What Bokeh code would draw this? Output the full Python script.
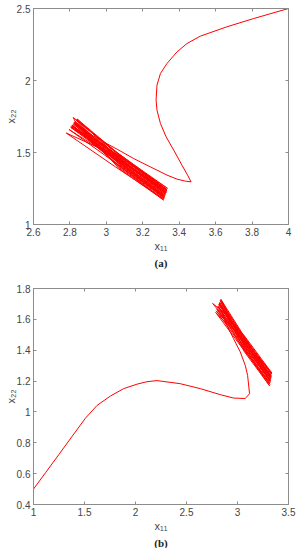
from bokeh.plotting import figure
from bokeh.layouts import column
from bokeh.models import LinearAxis, FixedTicker, Title, CustomJSTickFormatter
from bokeh.embed import file_html
from bokeh.resources import INLINE

# ---------------- data (a) ----------------
trans_a_x = [4.0, 3.808, 3.662, 3.516, 3.443, 3.388, 3.333, 3.297, 3.278, 3.273, 3.278, 3.297,
             3.328, 3.370, 3.415, 3.446, 3.465, 3.434, 3.388, 3.333, 3.242, 3.150, 3.059,
             2.967, 2.876, 2.839, 2.818]
trans_a_y = [2.5, 2.43, 2.373, 2.308, 2.257, 2.199, 2.118, 2.049, 1.968, 1.864, 1.794, 1.701,
             1.609, 1.516, 1.412, 1.343, 1.296, 1.301, 1.315, 1.343, 1.400, 1.458, 1.523,
             1.586, 1.655, 1.690, 1.743]
band_a_x = [3.07, 3.336, 3.05, 2.828, 3.07, 3.327, 3.05, 2.825, 3.07, 3.321, 3.05, 2.810,
            3.07, 3.333, 3.05, 2.839, 3.07, 3.330, 3.05, 2.813, 3.07, 3.318, 3.05, 2.804,
            3.07, 3.329, 3.05, 2.834, 3.07, 3.314, 3.05, 2.795, 3.07, 3.325, 3.05, 2.821,
            3.07, 3.333, 3.05, 2.836, 3.07, 3.320, 3.05, 2.807, 3.07, 3.327, 3.05, 2.824,
            3.07, 3.316, 3.05, 2.780, 3.07, 3.332, 3.05, 2.818, 3.07, 3.323, 3.05, 2.812,
            3.07, 3.319]
band_a_y = [1.488, 1.251, 1.490, 1.715, 1.449, 1.219, 1.484, 1.710, 1.421, 1.197, 1.456, 1.685,
            1.477, 1.242, 1.509, 1.733, 1.460, 1.228, 1.462, 1.690, 1.404, 1.183, 1.445, 1.675,
            1.455, 1.224, 1.501, 1.725, 1.388, 1.170, 1.428, 1.660, 1.438, 1.210, 1.476, 1.703,
            1.474, 1.239, 1.504, 1.728, 1.416, 1.192, 1.450, 1.680, 1.446, 1.217, 1.481, 1.708,
            1.396, 1.176, 1.400, 1.635, 1.469, 1.235, 1.470, 1.698, 1.430, 1.203, 1.459, 1.688,
            1.410, 1.188]

# ---------------- data (b) ----------------
trans_b_x = [1.0, 1.12, 1.25, 1.38, 1.509, 1.623, 1.754, 1.884, 2.015, 2.113, 2.211, 2.439,
             2.635, 2.831, 2.961, 3.076, 3.118, 3.099, 3.076, 3.027, 2.961, 2.896, 2.847,
             2.798, 2.756]
trans_b_y = [0.5, 0.608, 0.725, 0.843, 0.959, 1.042, 1.103, 1.151, 1.180, 1.196, 1.203, 1.183,
             1.151, 1.112, 1.090, 1.087, 1.118, 1.237, 1.302, 1.389, 1.475, 1.562, 1.638,
             1.681, 1.703]
band_b_x = [3.07, 3.329, 3.05, 2.831, 3.07, 3.323, 3.05, 2.816, 3.07, 3.335, 3.05, 2.825,
            3.07, 3.317, 3.05, 2.798, 3.07, 3.326, 3.05, 2.837, 3.07, 3.324, 3.05, 2.819,
            3.07, 3.332, 3.05, 2.810, 3.07, 3.314, 3.05, 2.792, 3.07, 3.330, 3.05, 2.833,
            3.07, 3.321, 3.05, 2.809, 3.07, 3.336, 3.05, 2.822, 3.07, 3.319, 3.05, 2.786,
            3.07, 3.327]
band_b_y = [1.455, 1.224, 1.495, 1.720, 1.427, 1.201, 1.467, 1.695, 1.483, 1.246, 1.484, 1.710,
            1.399, 1.179, 1.434, 1.665, 1.444, 1.215, 1.506, 1.730, 1.432, 1.206, 1.473, 1.700,
            1.472, 1.237, 1.456, 1.685, 1.388, 1.170, 1.422, 1.655, 1.460, 1.228, 1.498, 1.723,
            1.421, 1.197, 1.453, 1.683, 1.491, 1.253, 1.478, 1.705, 1.410, 1.188, 1.411, 1.645,
            1.449, 1.219]

# ---------------- ticks ----------------
xticks_a = [2.6, 2.8, 3, 3.2, 3.4, 3.6, 3.8, 4]
xlabels_a = ["2.6", "2.8", "3", "3.2", "3.4", "3.6", "3.8", "4"]
yticks_a = [1, 1.5, 2, 2.5]
ylabels_a = ["1", "1.5", "2", "2.5"]
xticks_b = [1, 1.5, 2, 2.5, 3, 3.5]
xlabels_b = ["1", "1.5", "2", "2.5", "3", "3.5"]
yticks_b = [0.4, 0.6, 0.8, 1, 1.2, 1.4, 1.6, 1.8]
ylabels_b = ["0.4", "0.6", "0.8", "1", "1.2", "1.4", "1.6", "1.8"]

AX = "#8c8c8c"
TXT = "#454545"
FONT = "Liberation Sans"


def make(xr, yr, xt, xl, yt, yl, tag, h, top, bottom):
    p = figure(width=298, height=h, x_range=xr, y_range=yr, output_backend="svg",
               toolbar_location=None, min_border_left=33, min_border_right=10,
               min_border_top=top, min_border_bottom=bottom)
    p.xgrid.visible = False
    p.ygrid.visible = False
    p.outline_line_color = AX
    p.outline_line_alpha = 1
    for ax, ticks, labels in ((p.xaxis[0], xt, xl), (p.yaxis[0], yt, yl)):
        ax.ticker = FixedTicker(ticks=ticks)
        ax.major_label_overrides = {t: s for t, s in zip(ticks, labels)}
        ax.major_tick_in = 3
        ax.major_tick_out = 0
        ax.minor_tick_line_color = None
        ax.axis_line_color = AX
        ax.major_tick_line_color = AX
        ax.major_label_text_font = FONT
        ax.major_label_text_font_size = "10px"
        ax.major_label_text_color = TXT
        ax.major_label_standoff = 3
        ax.axis_label_text_font = FONT
        ax.axis_label_text_font_size = "11px"
        ax.axis_label_text_font_style = "normal"
        ax.axis_label_text_color = TXT
    p.xaxis[0].axis_label = "x₁₁"
    p.xaxis[0].axis_label_standoff = 1
    p.yaxis[0].axis_label = "x₂₂"
    p.yaxis[0].axis_label_standoff = -3
    p.yaxis[0].major_label_standoff = 3
    blank = CustomJSTickFormatter(code="return ''")
    for loc, ticks in (("above", xt), ("right", yt)):
        ax = LinearAxis(ticker=FixedTicker(ticks=ticks), formatter=blank,
                        major_tick_in=3, major_tick_out=0,
                        minor_tick_line_color=None, axis_line_color=AX,
                        major_tick_line_color=AX, major_label_text_font_size="1px",
                        major_label_standoff=0)
        p.add_layout(ax, loc)
    p.add_layout(Title(text=tag, align="center", text_font="Liberation Serif",
                       text_font_size="11px", text_font_style="bold", text_color="#222222",
                       standoff=0), "below")
    return p


pa = make((2.6, 4.0), (1.0, 2.5), xticks_a, xlabels_a, yticks_a, ylabels_a, "(a)", 270, 8, 46)
pa.line(trans_a_x + band_a_x, trans_a_y + band_a_y, line_color="#ff0000", line_width=1.0)

pb = make((1.0, 3.5), (0.4, 1.8), xticks_b, xlabels_b, yticks_b, ylabels_b, "(b)", 278, 18, 44)
pb.line(trans_b_x + band_b_x, trans_b_y + band_b_y, line_color="#ff0000", line_width=1.0)

layout = column(pa, pb, spacing=0)
open("out.html", "w").write(file_html(layout, INLINE))
